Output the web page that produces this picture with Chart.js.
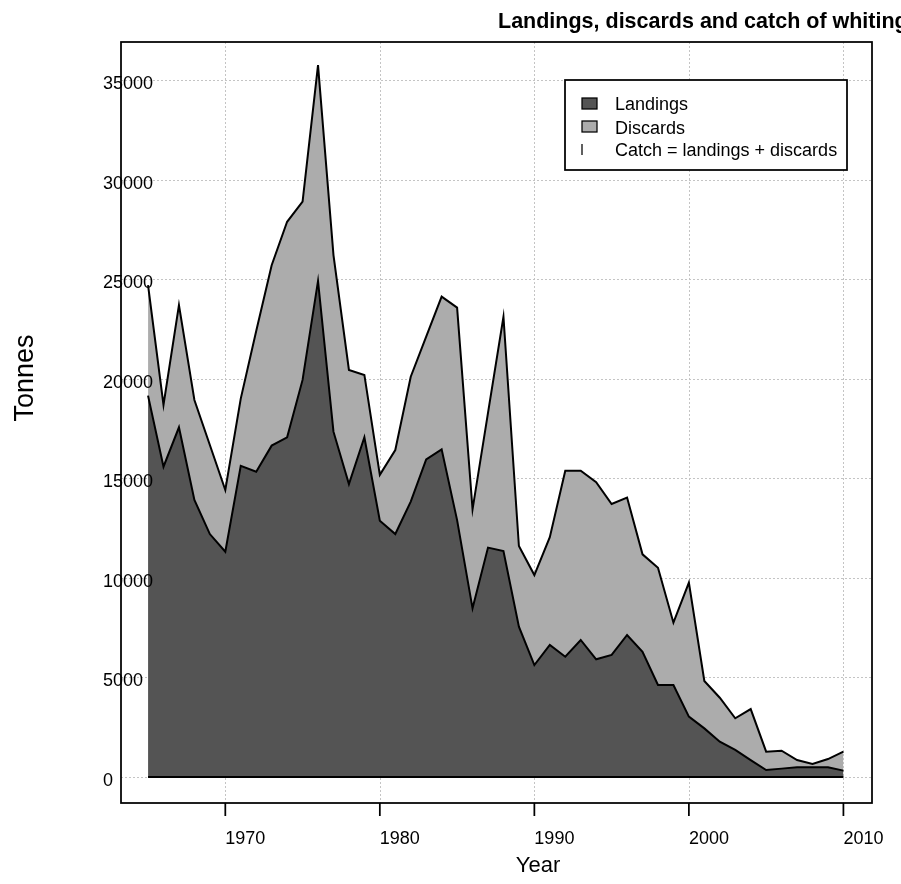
<!DOCTYPE html>
<html>
<head>
<meta charset="utf-8">
<script src="https://cdn.jsdelivr.net/npm/chart.js@4"></script>
<style>
  body { margin: 0; background: #fff; }
  canvas { display: block; }
</style>
</head>
<body>
<canvas id="c" width="901" height="884"></canvas>
<script>
const years = [1965, 1966, 1967, 1968, 1969, 1970, 1971, 1972, 1973, 1974,
  1975, 1976, 1977, 1978, 1979, 1980, 1981, 1982, 1983, 1984,
  1985, 1986, 1987, 1988, 1989, 1990, 1991, 1992, 1993, 1994,
  1995, 1996, 1997, 1998, 1999, 2000, 2001, 2002, 2003, 2004,
  2005, 2006, 2007, 2008, 2009, 2010]
const landings = [19150, 15580, 17560, 13910, 12200, 11310, 15620, 15330, 16640, 17060,
  19940, 24910, 17340, 14710, 17060, 12870, 12200, 13830, 15950, 16450,
  12900, 8470, 11520, 11350, 7550, 5620, 6630, 6040, 6880, 5910,
  6130, 7130, 6290, 4620, 4620, 3030, 2440, 1770, 1360, 850,
  350, 420, 490, 490, 490, 320]
const catchTotal = [24700, 18680, 23700, 18930, 16670, 14410, 19000, 22400, 25700, 27880,
  28890, 35750, 26210, 20440, 20190, 15170, 16420, 20100, 22110, 24120,
  23570, 13440, 18280, 23110, 11600, 10140, 12040, 15380, 15380, 14800,
  13710, 14030, 11180, 10510, 7750, 9760, 4820, 3980, 2950, 3410,
  1270, 1320, 850, 650, 900, 1270]
const xTicks = [1970, 1980, 1990, 2000, 2010]
const yTicks = [0, 5000, 10000, 15000, 20000, 25000, 30000, 35000]

const darkFill = "#545454"
const lightFill = "#acacac"
const font = "Liberation Sans, Arial, Helvetica, sans-serif"

const decor = {
  id: "decor",
  beforeDatasetsDraw(chart) {
    const { ctx, chartArea: a, scales: { x, y } } = chart
    ctx.save()
    ctx.strokeStyle = "#c4c4c4"
    ctx.lineWidth = 1
    ctx.setLineDash([2, 2])
    xTicks.forEach(v => {
      const px = Math.round(x.getPixelForValue(v)) + 0.5
      ctx.beginPath(); ctx.moveTo(px, a.top); ctx.lineTo(px, a.bottom); ctx.stroke()
    })
    yTicks.forEach(v => {
      const py = Math.round(y.getPixelForValue(v)) + 0.5
      ctx.beginPath(); ctx.moveTo(a.left, py); ctx.lineTo(a.right, py); ctx.stroke()
    })
    ctx.restore()
  },
  afterDatasetsDraw(chart) {
    const { ctx, chartArea: a, scales: { x, y } } = chart
    ctx.save()
    ctx.strokeStyle = "#000"
    ctx.lineWidth = 2
    // baseline under the landings polygon
    const y0 = y.getPixelForValue(0)
    ctx.beginPath()
    ctx.moveTo(x.getPixelForValue(years[0]), y0)
    ctx.lineTo(x.getPixelForValue(years[years.length - 1]), y0)
    ctx.stroke()
    // box
    ctx.lineWidth = 1.75
    ctx.strokeRect(a.left, a.top, a.right - a.left, a.bottom - a.top)
    // x ticks + labels
    ctx.fillStyle = "#000"
    ctx.font = "18px " + font
    ctx.textAlign = "left"
    ctx.textBaseline = "middle"
    xTicks.forEach(v => {
      const px = x.getPixelForValue(v)
      ctx.beginPath(); ctx.moveTo(px, a.bottom); ctx.lineTo(px, a.bottom + 13); ctx.stroke()
      ctx.fillText(String(v), px, a.bottom + 36)
    })
    yTicks.forEach(v => {
      ctx.fillText(String(v), 103, y.getPixelForValue(v) + 4)
    })
    // axis titles
    ctx.font = "22px " + font
    ctx.textAlign = "center"
    ctx.fillText("Year", 538, 866)
    ctx.save()
    ctx.translate(26, 378)
    ctx.rotate(-Math.PI / 2)
    ctx.font = "27px " + font
    ctx.fillText("Tonnes", 0, 0)
    ctx.restore()
    // title (runs off the right edge, as in the original)
    ctx.font = "bold 21.5px " + font
    ctx.textAlign = "left"
    ctx.textBaseline = "alphabetic"
    ctx.fillText("Landings, discards and catch of whiting", 498, 28)
    ctx.textBaseline = "middle"
    // legend
    ctx.fillStyle = "#fff"
    ctx.fillRect(565, 80, 282, 90)
    ctx.strokeRect(565, 80, 282, 90)
    ctx.lineWidth = 1.25
    ctx.fillStyle = darkFill
    ctx.fillRect(582, 98, 15, 11); ctx.strokeRect(582, 98, 15, 11)
    ctx.fillStyle = lightFill
    ctx.fillRect(582, 121, 15, 11); ctx.strokeRect(582, 121, 15, 11)
    ctx.beginPath(); ctx.moveTo(582, 144); ctx.lineTo(582, 155); ctx.stroke()
    ctx.fillStyle = "#000"
    ctx.font = "18px " + font
    ctx.fillText("Landings", 615, 105)
    ctx.fillText("Discards", 615, 129)
    ctx.fillText("Catch = landings + discards", 615, 151)
    ctx.restore()
  }
}

new Chart(document.getElementById("c"), {
  type: "line",
  data: {
    datasets: [
      {
        label: "Landings",
        data: years.map((yr, i) => ({ x: yr, y: landings[i] })),
        borderColor: "#000",
        borderWidth: 2,
        backgroundColor: darkFill,
        fill: "origin",
        pointRadius: 0,
        tension: 0,
      },
      {
        label: "Catch = landings + discards",
        data: years.map((yr, i) => ({ x: yr, y: catchTotal[i] })),
        borderColor: "#000",
        borderWidth: 2,
        backgroundColor: lightFill,
        fill: "-1",
        pointRadius: 0,
        tension: 0,
      },
    ]
  },
  options: {
    responsive: false,
    animation: false,
    layout: { padding: { left: 121, right: 29, top: 42, bottom: 81 } },
    plugins: { legend: { display: false }, tooltip: { enabled: false } },
    scales: {
      x: { type: "linear", display: false, min: 1963.25, max: 2011.85 },
      y: { type: "linear", display: false, min: -1306, max: 36908 },
    }
  },
  plugins: [decor],
})
</script>
</body>
</html>
